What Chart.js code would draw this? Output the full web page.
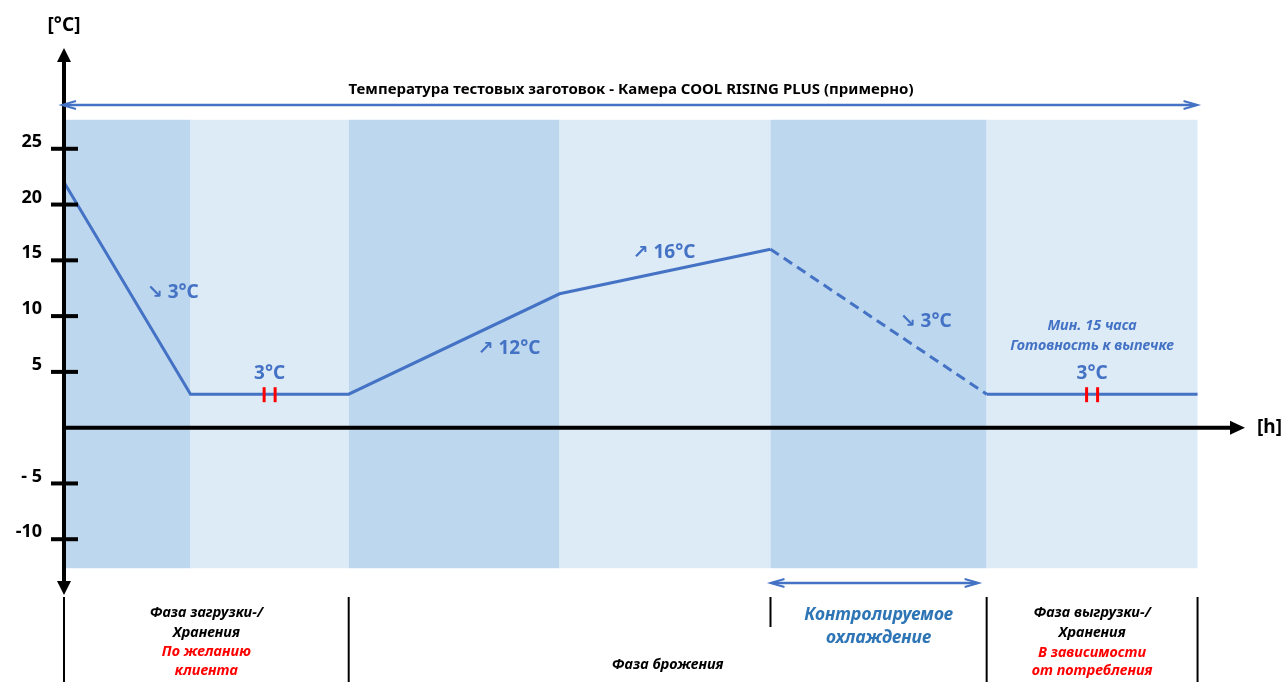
<!DOCTYPE html>
<html lang="ru">
<head>
<meta charset="utf-8">
<title>Температура тестовых заготовок</title>
<script src="https://cdn.jsdelivr.net/npm/chart.js@4.4.1/dist/chart.umd.min.js"></script>
<style>
  html, body { margin: 0; padding: 0; background: #ffffff; }
  #wrap { width: 1288px; height: 682px; }
</style>
</head>
<body>
<div id="wrap"><canvas id="c" width="1288" height="682"></canvas></div>
<script>
// Process profile: time (h) and dough temperature (°C) at each phase boundary
const timePoints   = [0, 6, 13.5, 23.5, 33.5, 43.75, 53.75];
const temperatures = [22, 3, 3, 12, 16, 3, 3];
// Background phase bands along the time axis
const phaseEdges   = [0, 6, 13.5, 23.5, 33.5, 43.75, 53.75];
// Temperature axis
const yTickValues  = [25, 20, 15, 10, 5, -5, -10];
const yTickLabels  = ['25', '20', '15', '10', '5', '- 5', '-10'];
// Captions under the time axis
const loadPhaseText     = ['Фаза загрузки-/', 'Хранения'];
const loadPhaseNote     = ['По желанию', 'клиента'];
const proofPhaseText    = 'Фаза брожения';
const coolingText       = ['Контролируемое', 'охлаждение'];
const unloadPhaseText   = ['Фаза выгрузки-/', 'Хранения'];
const unloadPhaseNote   = ['В зависимости', 'от потребления'];
const readyText         = ['Мин. 15 часа', 'Готовность к выпечке'];
const titleText         = 'Температура тестовых заготовок - Камера COOL RISING PLUS (примерно)';

const FONT = "'Noto Sans', 'DejaVu Sans', sans-serif";
const BLUE = '#4472C4';
const CAPTION_BLUE = '#2E75B6';
const RED = '#FF0000';
const BAND_DARK = '#BDD7EE';
const BAND_LIGHT = '#DDEBF7';

function f(size, style) { return (style || 'normal') + ' bold ' + size + 'px ' + FONT; }

function label(ctx, str, x, y, font, color, align) {
  ctx.save();
  ctx.font = font;
  ctx.fillStyle = color;
  ctx.textAlign = align || 'center';
  ctx.textBaseline = 'middle';
  ctx.fillText(str, x, y);
  ctx.restore();
}

function line(ctx, x1, y1, x2, y2, width, color) {
  ctx.save();
  ctx.strokeStyle = color;
  ctx.lineWidth = width;
  ctx.lineCap = 'butt';
  ctx.beginPath();
  ctx.moveTo(x1, y1);
  ctx.lineTo(x2, y2);
  ctx.stroke();
  ctx.restore();
}

// Filled triangular head; (dx, dy) is the unit direction the arrow points to
function solidHead(ctx, tx, ty, dx, dy, len, half, color) {
  const bx = tx - dx * len, by = ty - dy * len;
  ctx.save();
  ctx.fillStyle = color;
  ctx.beginPath();
  ctx.moveTo(tx, ty);
  ctx.lineTo(bx - dy * half, by + dx * half);
  ctx.lineTo(bx + dy * half, by - dx * half);
  ctx.closePath();
  ctx.fill();
  ctx.restore();
}

// Open chevron head for the thin blue span arrows
function openHead(ctx, tx, ty, dx, len, half, color) {
  ctx.save();
  ctx.strokeStyle = color;
  ctx.lineWidth = 2;
  ctx.beginPath();
  ctx.moveTo(tx - dx * len, ty - half);
  ctx.lineTo(tx, ty);
  ctx.lineTo(tx - dx * len, ty + half);
  ctx.stroke();
  ctx.restore();
}

function spanArrow(ctx, x1, x2, y) {
  line(ctx, x1 + 2, y, x2 - 2, y, 2.5, BLUE);
  openHead(ctx, x1, y, -1, 14, 4, BLUE);
  openHead(ctx, x2, y, 1, 14, 4, BLUE);
}

// Point a fraction t of the way along the drawn segment i of the profile
function along(meta, i, t) {
  const a = meta.data[i], b = meta.data[i + 1];
  return { x: a.x + (b.x - a.x) * t, y: a.y + (b.y - a.y) * t };
}

const bandsPlugin = {
  id: 'phaseBands',
  beforeDatasetsDraw(chart) {
    const { ctx, scales: { x, y } } = chart;
    const top = y.getPixelForValue(27.6), bottom = y.getPixelForValue(-12.6);
    ctx.save();
    for (let i = 0; i < phaseEdges.length - 1; i++) {
      const l = x.getPixelForValue(phaseEdges[i]);
      const r = x.getPixelForValue(phaseEdges[i + 1]);
      ctx.fillStyle = i % 2 === 0 ? BAND_DARK : BAND_LIGHT;
      ctx.fillRect(l, top, r - l, bottom - top);
    }
    ctx.restore();
  }
};

const decorPlugin = {
  id: 'decor',
  afterDatasetsDraw(chart) {
    const { ctx, scales: { x, y } } = chart;
    const meta = chart.getDatasetMeta(0);
    const x0 = x.getPixelForValue(0);
    const y0 = y.getPixelForValue(0);
    const px = v => x.getPixelForValue(v);

    // Temperature axis with arrows at both ends
    line(ctx, x0, 58, x0, 585, 4, '#000');
    solidHead(ctx, x0, 48, 0, -1, 14, 7, '#000');
    solidHead(ctx, x0, 595, 0, 1, 14, 7, '#000');
    yTickValues.forEach(v => {
      const ty = y.getPixelForValue(v);
      line(ctx, x0 - 13, ty, x0 + 14, ty, 4, '#000');
    });
    label(ctx, '[°C]', x0, 26, f(19), '#000');

    // Time axis
    line(ctx, x0, y0, 1234, y0, 4, '#000');
    solidHead(ctx, 1245, y0, 1, 0, 15, 7, '#000');
    label(ctx, '[h]', 1257, y0, f(19), '#000', 'left');

    // Break marks on the holding plateaus
    [[1, 2], [5, 6]].forEach(([a, b]) => {
      const p = along(meta, a, 0.5);
      const q = meta.data[b];
      const mid = (meta.data[a].x + q.x) / 2;
      [-5.5, 5.5].forEach(d => line(ctx, mid + d, p.y - 7, mid + d, p.y + 8, 3, RED));
    });

    // Temperature annotations along the profile
    const tempText = v => v + '°C';
    let p = along(meta, 0, 0.52);
    label(ctx, '↘ ' + tempText(temperatures[1]), p.x + 17, p.y, f(19), BLUE, 'left');
    p = along(meta, 1, 0.5);
    label(ctx, tempText(temperatures[2]), p.x, p.y - 21, f(19), BLUE);
    p = along(meta, 2, 0.611);
    label(ctx, '↗ ' + tempText(temperatures[3]), p.x, p.y + 16, f(19), BLUE, 'left');
    p = along(meta, 3, 0.346);
    label(ctx, '↗ ' + tempText(temperatures[4]), p.x, p.y - 26, f(19), BLUE, 'left');
    p = along(meta, 4, 0.598);
    label(ctx, '↘ ' + tempText(temperatures[5]), p.x, p.y - 14, f(19), BLUE, 'left');
    p = along(meta, 5, 0.5);
    label(ctx, tempText(temperatures[6]), p.x, p.y - 21, f(19), BLUE);
    label(ctx, readyText[0], p.x, p.y - 68, f(14.5, 'italic'), BLUE);
    label(ctx, readyText[1], p.x, p.y - 48, f(14.5, 'italic'), BLUE);

    // Title with the span arrow over the whole process
    label(ctx, titleText, 631, 90, f(15), '#000');
    spanArrow(ctx, x0 - 2, px(53.75), 105);

    // Phase separators under the time axis
    [0, 13.5, 43.75, 53.75].forEach(v => line(ctx, px(v), 597, px(v), 682, 2, '#000'));
    line(ctx, px(33.5), 597, px(33.5), 627, 2, '#000');
    spanArrow(ctx, px(33.5), px(43.75) - 8, 583);

    // Phase captions
    const cap = f(14.5, 'italic');
    const c1 = (px(0) + px(13.5)) / 2;
    label(ctx, loadPhaseText[0], c1, 613, cap, '#000');
    label(ctx, loadPhaseText[1], c1, 633, cap, '#000');
    label(ctx, loadPhaseNote[0], c1, 652, cap, RED);
    label(ctx, loadPhaseNote[1], c1, 671, cap, RED);

    label(ctx, proofPhaseText, (px(13.5) + px(43.75)) / 2, 665, cap, '#000');

    const c3 = (px(33.5) + px(43.75)) / 2;
    label(ctx, coolingText[0], c3, 615, f(17.5, 'italic'), CAPTION_BLUE);
    label(ctx, coolingText[1], c3, 638, f(17.5, 'italic'), CAPTION_BLUE);

    const c4 = (px(43.75) + px(53.75)) / 2;
    label(ctx, unloadPhaseText[0], c4, 613, cap, '#000');
    label(ctx, unloadPhaseText[1], c4, 633, cap, '#000');
    label(ctx, unloadPhaseNote[0], c4, 653, cap, RED);
    label(ctx, unloadPhaseNote[1], c4, 671, cap, RED);
  }
};

new Chart(document.getElementById('c'), {
  type: 'line',
  data: {
    datasets: [{
      data: timePoints.map((t, i) => ({ x: t, y: temperatures[i] })),
      borderColor: BLUE,
      borderWidth: 3,
      pointRadius: 0,
      tension: 0,
      fill: false,
      clip: false,
      borderCapStyle: 'butt',
      segment: {
        // controlled cooling section is drawn dashed
        borderDash: ctx => (ctx.p0DataIndex === 4 ? [10, 6] : undefined)
      }
    }]
  },
  options: {
    responsive: false,
    animation: false,
    devicePixelRatio: 1,
    layout: { padding: { left: 0, right: 43, top: 93, bottom: 87 } },
    plugins: { legend: { display: false }, tooltip: { enabled: false } },
    scales: {
      x: { type: 'linear', min: 0, max: 56, display: false },
      y: {
        type: 'linear',
        min: -15,
        max: 30,
        position: 'left',
        afterFit: s => { s.width = 64; },
        afterBuildTicks: s => { s.ticks = yTickValues.map(v => ({ value: v })); },
        grid: { display: false, drawTicks: false },
        border: { display: false },
        ticks: {
          autoSkip: false,
          padding: 22,
          labelOffset: -7,
          color: '#000',
          font: { family: FONT, size: 18, weight: 'bold' },
          callback: v => yTickLabels[yTickValues.indexOf(v)]
        }
      }
    }
  },
  plugins: [bandsPlugin, decorPlugin]
});
</script>
</body>
</html>
